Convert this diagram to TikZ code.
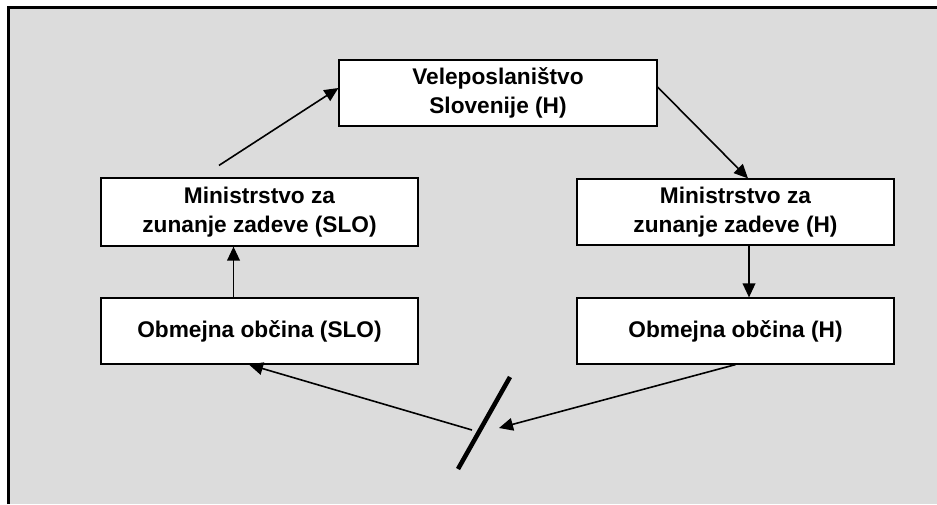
\documentclass[tikz,border=0pt]{standalone}
\usepackage{fontspec}
\setmainfont{Liberation Sans}
\usetikzlibrary{arrows.meta,calc}
\definecolor{panel}{RGB}{220,220,220}
\tikzset{
  box/.style={draw=black,fill=white,line width=0.9pt,minimum width=317*0.75pt,minimum height=67*0.75pt,inner sep=0pt,align=center,font=\fontsize{17}{22}\selectfont\bfseries},
  conn/.style={line width=1.2pt,-{Triangle[length=10.5pt,width=9.5pt]}},
  frameline/.style={line width=2.4pt}
}
\begin{document}
\begin{tikzpicture}[x=0.75pt,y=-0.75pt]
\useasboundingbox (0,0) rectangle (937,504);
\clip (0,0) rectangle (937,504);
\fill[white] (0,0) rectangle (937,504);
\fill[panel] (8.5,7.5) rectangle (937,504);
\coordinate (fbl) at (8.5,504);
\coordinate (ftl) at (8.5,7.5);
\coordinate (ftr) at (937,7.5);
\draw[frameline] (fbl) -- (ftl) -- (ftr);
\node[box,minimum width=318*0.75pt,minimum height=66*0.75pt] (vel) at (498,93) {Veleposlaništvo\\Slovenije (H)};
\node[box,minimum height=68*0.75pt] (mzs) at (259.5,212) {Ministrstvo za\\zunanje zadeve (SLO)};
\node[box,minimum height=66*0.75pt] (mzh) at (735.5,212) {Ministrstvo za\\zunanje zadeve (H)};
\node[box,minimum height=66*0.75pt] (obs) at (259.5,331) {Obmejna občina (SLO)};
\node[box,minimum height=66*0.75pt] (obh) at (735.5,331) {Obmejna občina (H)};
\coordinate (sa) at (472,430);
\coordinate (sb) at (499,428);
\coordinate (st) at (510,377);
\coordinate (sl) at (458,469);
\draw[conn] ($(mzs.north)+(-40.5,-12)$) -- ($(vel.west)+(0,-5)$);
\draw[conn] ($(vel.east)+(0,-6)$) -- ($(mzh.north)+(12.5,0)$);
\draw[conn] ($(mzh.south)+(13.5,0)$) -- ($(obh.north)+(13.5,0)$);
\draw[conn] ($(obs.north)+(-26,0)$) -- ($(mzs.south)+(-26,0)$);
\draw[conn] (obh.south) -- (sb);
\draw[conn] (sa) -- ($(obs.south)+(-10.5,0)$);
\draw[line width=3.4pt] (st) -- (sl);
\end{tikzpicture}
\end{document}
